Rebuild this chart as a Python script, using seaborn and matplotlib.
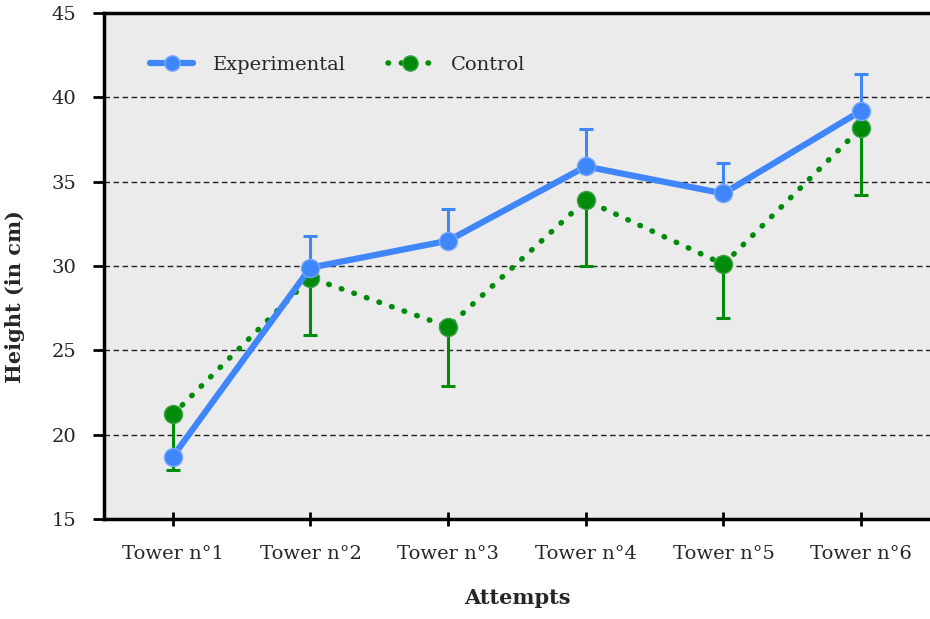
import matplotlib
matplotlib.use("Agg")
import matplotlib.pyplot as plt
import seaborn as sns
import pandas as pd
import numpy as np

categories = ["Tower n°1", "Tower n°2", "Tower n°3", "Tower n°4", "Tower n°5", "Tower n°6"]
experimental = [18.7, 29.9, 31.5, 35.9, 34.3, 39.2]
experimental_err_up = [0.0, 1.9, 1.9, 2.2, 1.8, 2.2]
control = [21.2, 29.3, 26.4, 33.9, 30.1, 38.2]
control_err_down = [3.3, 3.4, 3.5, 3.9, 3.2, 4.0]

blue = "#3f86fb"
green = "#008c0a"

sns.set_theme(style="white")
plt.rcParams['font.family'] = ['DejaVu Serif']

df = pd.DataFrame({
    "Attempts": categories * 2,
    "Height": experimental + control,
    "Group": ["Experimental"] * 6 + ["Control"] * 6,
})

fig = plt.figure(figsize=(9.3, 6.19), dpi=100)
ax = fig.add_axes([0.1118, 0.1616, 0.8882, 0.8174])
ax.set_facecolor("#ebebeb")

xs = np.arange(len(categories))
ax.errorbar(xs, control, yerr=[control_err_down, [0] * 6], fmt="none",
            ecolor=green, elinewidth=2.2, capsize=5, capthick=2.2, zorder=2)
ax.errorbar(xs, experimental, yerr=[[0] * 6, experimental_err_up], fmt="none",
            ecolor=blue, elinewidth=2.2, capsize=5, capthick=2.2, zorder=2)

sns.lineplot(data=df[df.Group == "Experimental"], x="Attempts", y="Height", ax=ax,
             color=blue, linewidth=4.5, marker="o", markersize=13,
             markeredgecolor="#7aa9fb", markeredgewidth=1.0, zorder=4,
             label="Experimental", sort=False)
sns.lineplot(data=df[df.Group == "Control"], x="Attempts", y="Height", ax=ax,
             color=green, linewidth=4.0, linestyle=(0, (0.1, 2.3)), marker="o",
             markersize=13, markeredgecolor="#3fa048", markeredgewidth=1.0,
             zorder=3, label="Control", sort=False, dash_capstyle="round")

ax.set_xlim(-0.5, 5.5)
ax.set_ylim(15, 45)
ax.set_yticks([15, 20, 25, 30, 35, 40, 45])
for y in [20, 25, 30, 35, 40]:
    ax.axhline(y, color="#222222", linestyle=(0, (4, 2.5)), linewidth=1.0, zorder=1)

ax.set_xlabel("Attempts", fontsize=15, fontweight="bold", labelpad=18)
ax.set_ylabel("Height (in cm)", fontsize=15, fontweight="bold")
ax.yaxis.set_label_coords(-0.0956, 0.439)
ax.tick_params(axis="x", direction="inout", length=10, width=2, labelsize=14, pad=14, color="black", bottom=True)
ax.tick_params(axis="y", direction="out", length=8, width=2, labelsize=14, pad=12, color="black", left=True)

for side in ["left", "top", "bottom"]:
    ax.spines[side].set_color("black")
    ax.spines[side].set_linewidth(2.5)
ax.spines["right"].set_visible(False)

leg = ax.legend(loc="upper left", bbox_to_anchor=(0.035, 0.95), frameon=False,
                fontsize=14, ncol=2, handlelength=2.2, columnspacing=2.2,
                handletextpad=1.0)
for h in leg.get_lines():
    h.set_markersize(11)

fig.savefig("out.png", dpi=100)
